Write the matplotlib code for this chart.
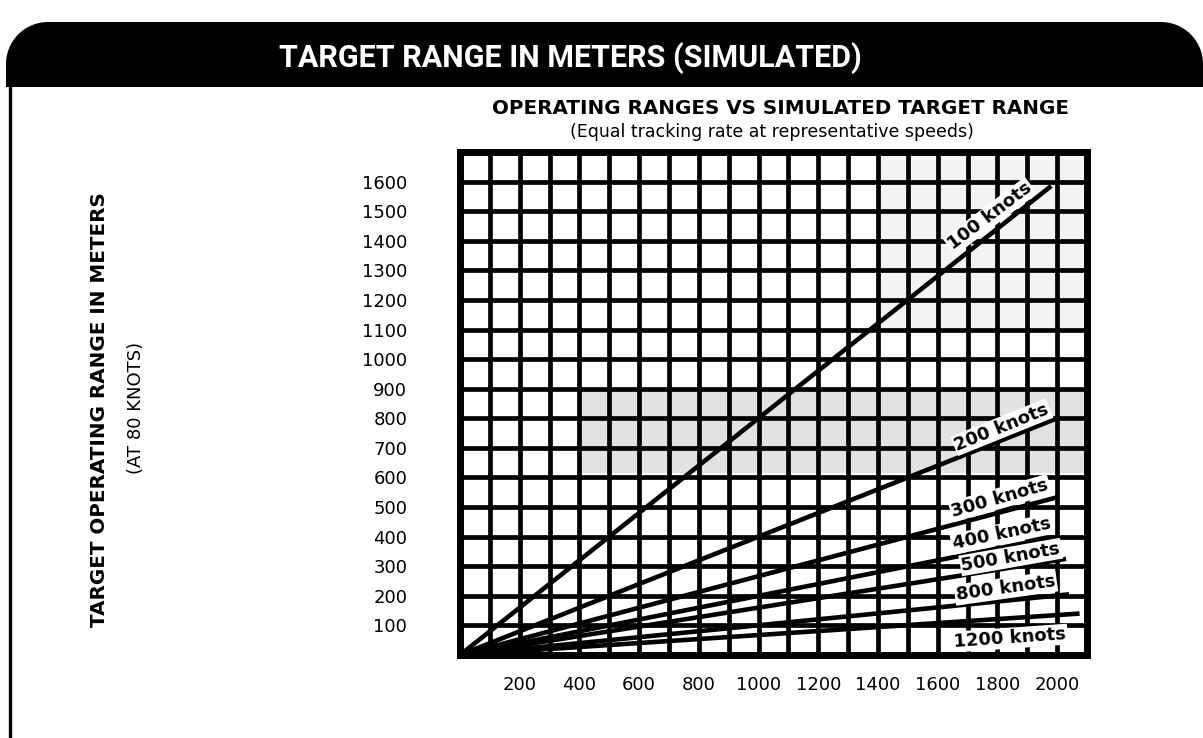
import numpy as np
import matplotlib
matplotlib.use("Agg")
import matplotlib.pyplot as plt
from matplotlib.patches import Polygon

# ---------------- data ----------------
speeds_knots = [100, 200, 300, 400, 500, 800, 1200]
line_labels = ["100 knots", "200 knots", "300 knots", "400 knots",
               "500 knots", "800 knots", "1200 knots"]
# end point of every line (simulated target range, operating range)
end_x = [1980, 2000, 2000, 2000, 2030, 2040, 2075]
end_y = [1585, 800, 533, 400, 325, 205, 140]

x_tick_values = [200, 400, 600, 800, 1000, 1200, 1400, 1600, 1800, 2000]
y_tick_values = [100, 200, 300, 400, 500, 600, 700, 800, 900, 1000,
                 1100, 1200, 1300, 1400, 1500, 1600]

title = "TARGET RANGE IN METERS (SIMULATED)"
subtitle1 = "OPERATING RANGES VS SIMULATED TARGET RANGE"
subtitle2 = "(Equal tracking rate at representative speeds)"
ylabel1 = "TARGET OPERATING RANGE IN METERS"
ylabel2 = "(AT 80 KNOTS)"

# ---------------- styling / placement ----------------
label_pos = [(1775, 1483), (1815, 770), (1809, 530), (1815, 409),
             (1845, 331), (1828, 226), (1842, 57)]
label_rot = [37, 22, 16, 12, 10, 8, 4]
narrow = ["Roboto", "DejaVu Sans"]

W, H = 1203, 738
fig = plt.figure(figsize=(W / 100, H / 100), dpi=100)
fig.patch.set_facecolor("white")

# background axes in pixel coordinates for decorations
bg = fig.add_axes([0, 0, 1, 1], zorder=0)
bg.set_xlim(0, W)
bg.set_ylim(H, 0)
bg.axis("off")

# black title band with rounded top corners
top, bottom, left, right, r = 22, 87, 6, 1203, 42
t = np.linspace(np.pi, 1.5 * np.pi, 20)
arc_l = np.c_[left + r + r * np.cos(t), top + r + r * np.sin(t)]
t2 = np.linspace(1.5 * np.pi, 2 * np.pi, 20)
arc_r = np.c_[right - r + r * np.cos(t2), top + r + r * np.sin(t2)]
pts = np.vstack([[left, bottom], arc_l, arc_r, [right, bottom]])
bg.add_patch(Polygon(pts, closed=True, facecolor="black", edgecolor="none"))
# left frame line
bg.plot([9.5, 9.5], [bottom - 2, H], color="black", lw=2.4, solid_capstyle="butt")

bg.text(570, 58, title, color="white", fontsize=22, fontweight="bold",
        family=narrow, ha="center", va="center")
bg.text(781, 108, subtitle1, color="black", fontsize=14.3, fontweight="bold",
        family="DejaVu Sans", ha="center", va="center")
bg.text(772, 132, subtitle2, color="black", fontsize=12.5,
        family="DejaVu Sans", ha="center", va="center")
bg.text(100, 410, ylabel1, color="black", fontsize=14.3, fontweight="bold",
        family="DejaVu Sans", rotation=90, ha="center", va="center")
bg.text(136, 408, ylabel2, color="black", fontsize=13,
        family="DejaVu Sans", rotation=90, ha="center", va="center")

# ---------------- main chart ----------------
ax = fig.add_axes([460 / W, 1 - 655 / H, (1087 - 460) / W, (655 - 152) / H], zorder=2)
ax.set_xlim(0, 2100)
ax.set_ylim(0, 1700)
ax.set_facecolor("none")

# light stipple-like shading
ax.axhspan(615, 902, xmin=400 / 2100, xmax=1, color="#e2e2e2", zorder=0, lw=0)
ax.axhspan(1100, 1700, xmin=1400 / 2100, xmax=1, color="#f3f3f3", zorder=0, lw=0)

ax.set_xticks(np.arange(0, 2101, 100), minor=True)
ax.set_yticks(np.arange(0, 1701, 100), minor=True)
ax.set_xticks(x_tick_values)
ax.set_yticks(y_tick_values)
ax.set_xticklabels([str(v) for v in x_tick_values])
ax.set_yticklabels([str(v) for v in y_tick_values])
ax.grid(True, which="both", color="black", lw=3.4, zorder=1)
ax.set_axisbelow(True)
ax.tick_params(which="both", length=0)
ax.tick_params(axis="y", pad=38, labelsize=13)
ax.tick_params(axis="x", pad=15, labelsize=13)
for s in ax.spines.values():
    s.set_linewidth(5)
    s.set_color("black")
    s.set_zorder(5)

for sp, ex, ey, lab, (lx, ly), rot in zip(speeds_knots, end_x, end_y,
                                          line_labels, label_pos, label_rot):
    ax.plot([0, ex], [0, ey], color="black", lw=3.3, zorder=3,
            solid_capstyle="butt")
    ax.text(lx, ly, lab, fontsize=13, fontweight="bold", family="DejaVu Sans",
            rotation=rot, rotation_mode="anchor", ha="center", va="center",
            zorder=4,
            bbox=dict(facecolor="white", edgecolor="none", pad=1.0))

fig.savefig("out.png", dpi=100, facecolor="white")
